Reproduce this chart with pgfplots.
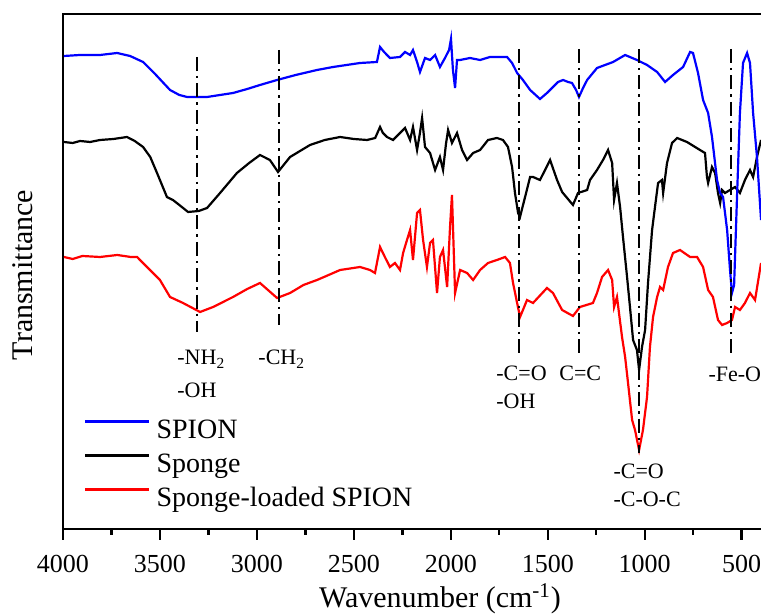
\documentclass[border=0pt]{standalone}
\usepackage{fontspec}
\setmainfont{Liberation Serif}
\usepackage{pgfplots}
\pgfplotsset{compat=1.18}
\begin{document}
\begin{tikzpicture}
\useasboundingbox (0,0) rectangle (380.5pt,307pt);
\begin{axis}[
  at={(31.5pt,42.5pt)}, anchor=south west,
  scale only axis, width=350pt, height=257.5pt,
  x dir=reverse, xmin=390, xmax=4000, ymin=0, ymax=515,
  xtick={4000,3500,3000,2500,2000,1500,1000,500},
  minor x tick num=1,
  xtick pos=bottom, ytick=\empty,
  tick align=outside,
  major tick length=5.5pt, minor tick length=3pt,
  every tick/.style={black, line width=1.2pt},
  axis line style={line width=1.25pt},
  /pgf/number format/assume math mode=true,
  /pgf/number format/1000 sep={},
  ticklabel style={font=\fontsize{13}{15}\selectfont},
  xticklabel style={yshift=-4pt},
  xlabel={Wavenumber (cm\textsuperscript{-1})},
  ylabel={Transmittance},
  label style={font=\fontsize{15}{17}\selectfont},
  xlabel style={at={(axis description cs:0.5386,0)}, anchor=base, yshift=-39.5pt},
  ylabel style={at={(axis description cs:-0.04286,0.4932)}, anchor=base, rotate=0},
  legend style={draw=none, fill=none, at={(axis description cs:0.03,0.2155)}, anchor=north west,
    inner sep=0pt, row sep=4pt, font=\fontsize{14}{17}\selectfont,
    nodes={inner sep=0pt, text height=10pt, text depth=3pt},
    /tikz/every odd column/.append style={column sep=3pt}},
  legend image code/.code={\draw[#1] (0pt,5pt) -- (32pt,5pt);},
  legend cell align=left,
]
\addlegendimage{blue, line width=1.1pt}
\addlegendentry{SPION}
\addlegendimage{black, line width=1.1pt}
\addlegendentry{Sponge}
\addlegendimage{red, line width=1.1pt}
\addlegendentry{Sponge-loaded SPION}
% Sponge (black)
\addplot[black, line width=1.1pt, forget plot] coordinates {
(3995,387)(3950,386)(3912,388)(3860,387)(3809,389)(3740,390)(3670,392)(3630,388)(3587,382)(3550,372)(3515,356)(3464,332)(3433,329)(3400,324)(3355,317)(3300,318)(3257,321)
(3190,336)(3103,356)(3040,366)(2984,374)(2933,369)(2891,357)(2829,372)(2726,384)(2650,389)(2571,392)(2500,390)(2432,389)(2390,391)(2365,402)
(2350,396)(2329,392)(2298,389)(2262,396)(2236,401)(2210,389)(2195,402)(2174,379)(2160,395)(2148,411)(2133,382)(2107,376)
(2081,359)(2056,372)(2040,359)(2025,385)(2014,399)(1994,386)(1968,396)(1942,379)(1916,369)(1885,376)(1849,379)
(1808,389)(1762,391)(1731,389)(1705,382)(1684,362)(1669,336)(1653,316)(1643,312)(1617,332)(1591,352)
(1576,352)(1540,349)(1488,369)(1452,349)(1426,337)(1370,324)(1344,336)(1297,339)(1282,349)(1246,359)
(1215,369)(1189,379)(1168,366)(1158,329)(1143,346)(1127,322)(1112,292)(1091,252)(1076,222)(1060,189)
(1040,179)(1029,159)(1014,182)(998,199)(983,246)(962,299)(947,322)(931,346)(911,349)(905,336)
(885,366)(859,386)(833,391)(782,387)(715,379)(689,376)(679,352)(673,346)(653,362)(637,356)
(622,336)(611,326)(601,339)(586,336)(560,339)(534,342)(509,336)(483,349)(457,359)(441,352)
(421,372)(400,389)
};
% Sponge-loaded SPION (red)
\addplot[red, line width=1.1pt, forget plot] coordinates {
(3995,272)(3950,270)(3900,273)(3809,272)(3720,274)(3650,272)(3618,272)(3567,262)(3500,249)(3448,232)(3381,226)(3293,217)(3226,222)(3123,232)
(3050,240)(2984,246)(2896,231)(2829,236)(2760,244)(2690,249)(2630,254)(2571,259)(2468,262)(2417,259)(2391,256)(2365,282)(2340,272)
(2314,262)(2288,266)(2262,259)(2246,276)(2226,289)(2210,299)(2195,269)(2174,316)(2159,319)(2143,289)
(2123,262)(2107,286)(2092,289)(2071,236)(2056,272)(2040,279)(2019,242)(2004,302)(1994,334)(1978,236)
(1952,259)(1916,256)(1885,249)(1849,259)(1808,266)(1762,269)(1720,272)(1695,266)(1679,246)(1658,226)
(1643,212)(1628,219)(1607,229)(1576,226)(1504,241)(1473,236)(1426,219)(1370,213)(1334,222)(1267,226)
(1246,236)(1220,252)(1189,259)(1168,249)(1158,222)(1143,232)(1117,192)(1101,172)(1086,146)(1065,109)
(1050,99)(1029,79)(1009,99)(988,132)(973,182)(957,212)(936,232)(921,242)(905,239)(880,262)
(854,276)(818,279)(766,272)(730,272)(699,262)(673,239)(648,232)(622,209)(601,204)(575,206)
(550,209)(534,222)(509,219)(483,226)(457,236)(431,229)(400,266)
};
% SPION (blue)
\addplot[blue, line width=1.1pt, forget plot] coordinates {
(3995,473)(3912,474)(3809,474)(3721,476)(3654,473)(3587,467)(3525,455)(3448,439)(3400,434)(3360,432)(3300,432)(3257,432)
(3190,434)(3123,436)(3050,440)(2984,444)(2896,449)(2800,454)(2690,459)(2607,462)(2468,466)(2381,467)(2365,482)(2344,477)(2314,471)
(2262,472)(2236,477)(2210,474)(2195,479)(2174,467)(2159,457)(2133,471)(2107,469)(2081,474)(2056,462)
(2030,471)(2009,479)(1999,490)(1989,459)(1978,441)(1968,469)(1952,469)(1901,471)(1849,469)(1798,472)
(1710,472)(1684,466)(1658,456)(1628,449)(1591,439)(1540,430)(1504,436)(1473,442)(1447,447)(1421,449)
(1395,447)(1375,446)(1354,439)(1339,432)(1318,441)(1297,449)(1246,461)(1163,467)(1101,474)(1040,469)
(988,464)(936,457)(895,447)(854,454)(802,462)(766,477)(751,476)(725,456)(699,429)(673,416)
(653,392)(627,349)(611,336)(596,332)(575,299)(560,259)(550,236)(539,244)(524,332)(509,416)
(493,466)(472,476)(457,466)(441,416)(421,372)(400,309)
};
\addplot[black, line width=1.3pt, forget plot, dash pattern=on 7pt off 2.5pt on 1.2pt off 2.5pt] coordinates {(3309,472)(3309,197)};
\addplot[black, line width=1.3pt, forget plot, dash pattern=on 7pt off 2.5pt on 1.2pt off 2.5pt] coordinates {(2886,479)(2886,204)};
\addplot[black, line width=1.3pt, forget plot, dash pattern=on 7pt off 2.5pt on 1.2pt off 2.5pt] coordinates {(1648,480)(1648,174)};
\addplot[black, line width=1.3pt, forget plot, dash pattern=on 7pt off 2.5pt on 1.2pt off 2.5pt] coordinates {(1339,480)(1339,174)};
\addplot[black, line width=1.3pt, forget plot, dash pattern=on 7pt off 2.5pt on 1.2pt off 2.5pt] coordinates {(1029,480)(1029,76)};
\addplot[black, line width=1.3pt, forget plot, dash pattern=on 7pt off 2.5pt on 1.2pt off 2.5pt] coordinates {(555,480)(555,174)};
\begin{scope}[every node/.style={inner sep=0pt, anchor=base west, font=\fontsize{11}{13}\selectfont}]
\node at (axis cs:3412,164) {-NH\textsubscript{2}};
\node at (axis cs:3412,131) {-OH};
\node at (axis cs:2994,164) {-CH\textsubscript{2}};
\node at (axis cs:1767,148) {-C=O};
\node at (axis cs:1767,120) {-OH};
\node at (axis cs:1442,148) {C=C};
\node at (axis cs:1163,50) {-C=O};
\node at (axis cs:1163,22) {-C-O-C};
\node at (axis cs:673,147) {-Fe-O};
\end{scope}
\end{axis}
\end{tikzpicture}
\end{document}
